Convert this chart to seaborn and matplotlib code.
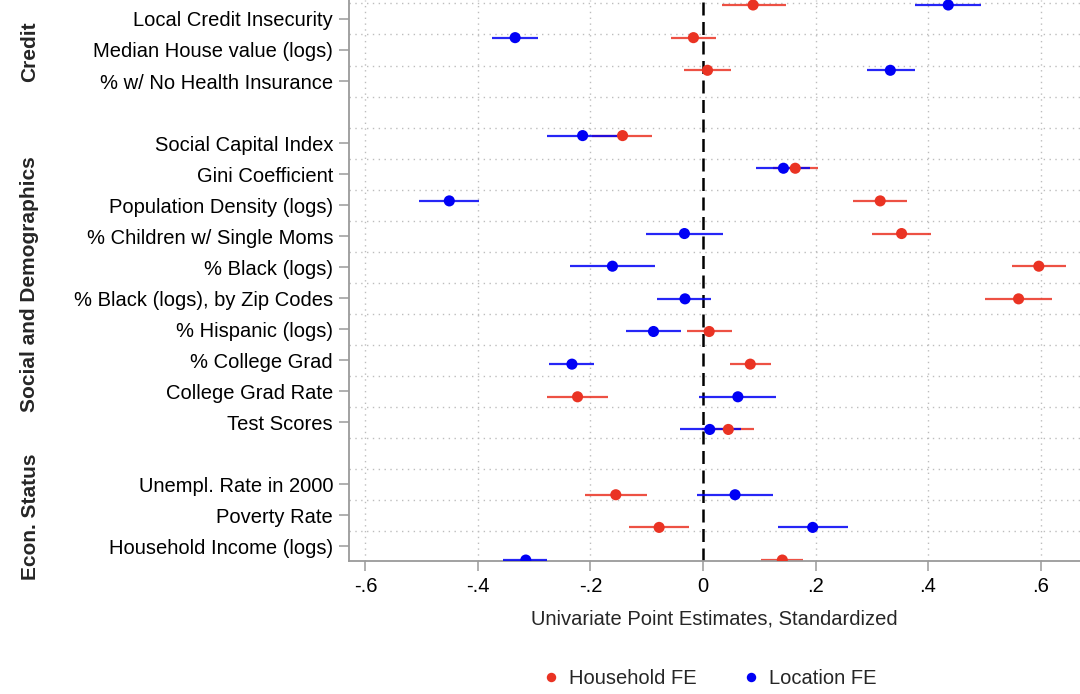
import matplotlib
matplotlib.use("Agg")
import matplotlib.pyplot as plt
import matplotlib.transforms as mtransforms
import pandas as pd
import seaborn as sns

# ---------------------------------------------------------------- data
variables = [
    "Local Credit Insecurity", "Median House value (logs)", "% w/ No Health Insurance",
    "Social Capital Index", "Gini Coefficient", "Population Density (logs)",
    "% Children w/ Single Moms", "% Black (logs)", "% Black (logs), by Zip Codes",
    "% Hispanic (logs)", "% College Grad", "College Grad Rate", "Test Scores",
    "Unempl. Rate in 2000", "Poverty Rate", "Household Income (logs)",
]
# row slot of each variable (empty slots separate the groups)
rows = [0, 1, 2, 4, 5, 6, 7, 8, 9, 10, 11, 12, 13, 15, 16, 17]

hh_est = [0.089, -0.017, 0.008, -0.143, 0.164, 0.315, 0.353, 0.597, 0.561,
          0.011, 0.084, -0.223, 0.045, -0.155, -0.078, 0.141]
hh_lo = [0.033, -0.057, -0.033, -0.197, 0.125, 0.267, 0.301, 0.550, 0.501,
         -0.029, 0.048, -0.277, -0.001, -0.210, -0.132, 0.103]
hh_hi = [0.147, 0.024, 0.049, -0.090, 0.205, 0.363, 0.405, 0.645, 0.620,
         0.052, 0.121, -0.168, 0.091, -0.100, -0.024, 0.178]

loc_est = [0.436, -0.334, 0.333, -0.214, 0.143, -0.451, -0.033, -0.161, -0.032,
           -0.088, -0.233, 0.062, 0.012, 0.057, 0.195, -0.315]
loc_lo = [0.377, -0.375, 0.292, -0.277, 0.094, -0.504, -0.102, -0.236, -0.081,
          -0.136, -0.274, -0.007, -0.041, -0.010, 0.133, -0.355]
loc_hi = [0.495, -0.293, 0.376, -0.151, 0.191, -0.398, 0.035, -0.085, 0.014,
          -0.039, -0.193, 0.130, 0.068, 0.124, 0.257, -0.277]

models = ["Household FE", "Location FE"]
groups = ["Credit", "Social and Demographics", "Econ. Status"]
group_rows = [(0, 2), (4, 13), (15, 17)]

xticks = [-0.6, -0.4, -0.2, 0, 0.2, 0.4, 0.6]
xticklabels = ["-.6", "-.4", "-.2", "0", ".2", ".4", ".6"]
xlabel = "Univariate Point Estimates, Standardized"

colors = {"Household FE": "#EA3323", "Location FE": "#0000F5"}

df = pd.concat([
    pd.DataFrame({"variable": variables, "row": rows, "model": models[0],
                  "est": hh_est, "lo": hh_lo, "hi": hh_hi}),
    pd.DataFrame({"variable": variables, "row": rows, "model": models[1],
                  "est": loc_est, "lo": loc_lo, "hi": loc_hi}),
], ignore_index=True)

# ---------------------------------------------------------------- style
sns.set_style("white")
plt.rcParams["font.family"] = ["Liberation Sans", "DejaVu Sans"]
FS = 14.5
AXIS_GREY = "#9a9a9a"
GRID_GREY = "#bdbdbd"

fig = plt.figure(figsize=(10.8, 6.94), dpi=100)
ax = fig.add_axes([349 / 1080, (694 - 560.7) / 694, 1 - 349 / 1080, 560.7 / 694])

# category labels sit on a slightly tighter grid than the estimate rows
LABEL_SCALE = 31 / 32.647
LABEL_SHIFT = 14 / 32.647


def label_pos(r):
    return LABEL_SHIFT + LABEL_SCALE * r


# dotted reference grid
for j in range(-1, 17):
    ax.axhline(label_pos(j + 0.5), color=GRID_GREY, lw=1.0,
               linestyle=(0, (1, 3.2)), zorder=0)
for xt in xticks:
    if xt != 0:
        ax.axvline(xt, color=GRID_GREY, lw=1.0, linestyle=(0, (1, 3.2)), zorder=0)

# zero line
zero = ax.axvline(0, color="black", lw=1.8, zorder=1)
zero.set_dashes([5.2, 2.6])

# confidence intervals
for z, m in enumerate(models):
    sub = df[df["model"] == m]
    ax.hlines(sub["row"], sub["lo"], sub["hi"], color=colors[m], lw=1.6,
              alpha=0.85, zorder=2 + z)

# point estimates
sns.scatterplot(data=df, x="est", y="row", hue="model", hue_order=models,
                palette=colors, s=64, edgecolor="none", linewidth=0,
                ax=ax, zorder=5)

handles, labels = ax.get_legend_handles_labels()
if ax.get_legend() is not None:
    ax.get_legend().remove()

# axes, ticks and labels
ax.set_xlim(-0.6293, 0.6702)
ax.set_ylim(17.02, -0.153)
ax.set_xticks(xticks)
ax.set_xticklabels(xticklabels, fontsize=FS)
ax.set_yticks([label_pos(r) for r in rows])
ax.set_yticklabels(variables, fontsize=FS)
ax.set_xlabel(xlabel, fontsize=FS, labelpad=10)
ax.set_ylabel("")

for side in ["top", "right"]:
    ax.spines[side].set_visible(False)
for side in ["left", "bottom"]:
    ax.spines[side].set_color(AXIS_GREY)
    ax.spines[side].set_linewidth(1.3)
ax.tick_params(axis="both", which="major", direction="out", length=7.5,
               width=1.1, color=AXIS_GREY, labelcolor="black", pad=4)
ax.tick_params(axis="y", left=True)
ax.tick_params(axis="x", bottom=True)

# group headings
trans = mtransforms.blended_transform_factory(fig.transFigure, ax.transData)
for g, (r0, r1) in zip(groups, group_rows):
    ax.text(30 / 1080, (label_pos(r0) + label_pos(r1)) / 2 + 0.05, g,
            transform=trans, rotation=90, ha="center", va="center",
            fontsize=15, fontweight="bold", clip_on=False)

# legend
fig.legend(handles, labels, loc="center", bbox_to_anchor=(710 / 1080, 15 / 694),
           ncol=2, frameon=False, fontsize=FS, handlelength=0.8,
           handletextpad=0.5, columnspacing=2.3, markerscale=0.85)

fig.savefig("out.png", dpi=100)
